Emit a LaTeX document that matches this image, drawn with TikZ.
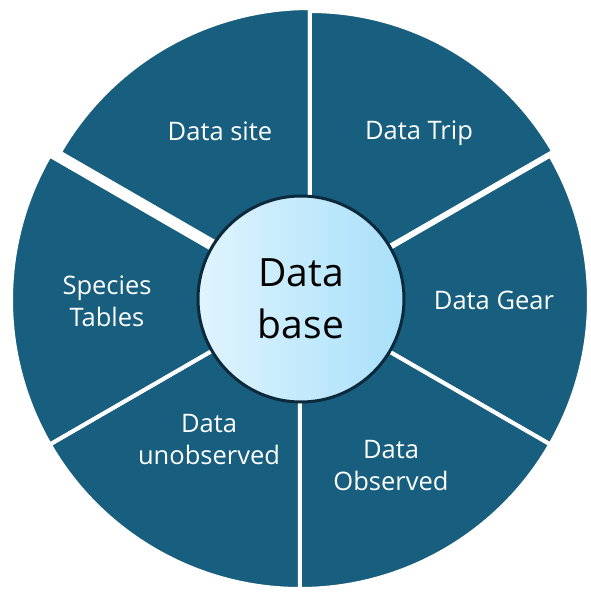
\documentclass[tikz,border=0pt]{standalone}
\usepackage{fontspec}
\setmainfont{Open Sans}
\usetikzlibrary{positioning}
\definecolor{segblue}{RGB}{23,94,127}
\definecolor{bgblue}{RGB}{186,224,242}
\definecolor{hubleft}{RGB}{224,244,254}
\definecolor{hubright}{RGB}{168,224,250}
\definecolor{hubline}{RGB}{12,42,60}
\pgfdeclareradialshading{bgglow}{\pgfpoint{0bp}{0bp}}{color(0bp)=(white); color(40bp)=(white); color(71bp)=(bgblue)}

\begin{document}
\begin{tikzpicture}[x=1pt, y=1pt, every node/.style={font=\fontsize{25.5}{32}\selectfont}]
\tikzset{seg/.style={fill=segblue, draw=white, line width=4pt}}
\tikzset{lbl/.style={text=white, align=center, inner sep=0pt}}
\tikzset{hub/.style={circle, draw=hubline, line width=3pt, minimum size=206pt, inner sep=0pt,
  left color=hubleft, right color=hubright, align=center, font=\fontsize{39}{52}\selectfont}}
% background
\path[shading=bgglow] (-300,-292) rectangle (290,300);
\useasboundingbox (-300,-292) rectangle (290,300);
% wheel
\path[seg] (0,0) -- (30:289) arc (30:-30:289) -- cycle;
\path[seg] (0,0) -- (-30:289) arc (-30:-90:289) -- cycle;
\path[seg] (0,0) -- (-90:289) arc (-90:-150:289) -- cycle;
\path[seg] (0,0) -- (-150:289) arc (-150:-210:289) -- cycle;
\path[seg] (10,3) -- ++(90:289) arc (90:150:289) -- cycle;
\path[seg] (10,8) -- ++(30:281) arc (30:90:281) -- cycle;
% labels
\node[lbl] (site) at (-80,169) {Data site};
\node[lbl] (trip) at (119,167) {Data Trip};
\node[lbl] (gear) at (194,0) {Data Gear};
\node[lbl] (observed) at (91,-166) {Data\\Observed};
\node[lbl] (unobserved) at (-91,-140) {Data\\unobserved};
\node[lbl] (species) at (-193,-1) {Species\\Tables};
\node[hub] (hub) at (1,1) {Data\\base};
\end{tikzpicture}
\end{document}
